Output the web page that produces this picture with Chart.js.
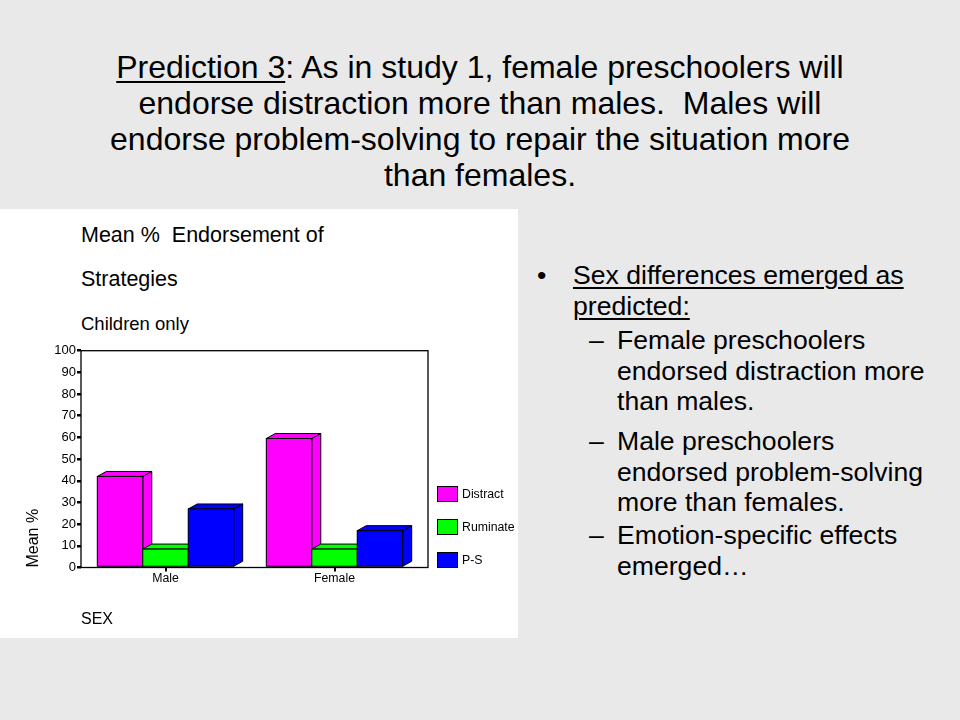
<!DOCTYPE html>
<html>
<head>
<meta charset="utf-8">
<script src="https://cdn.jsdelivr.net/npm/chart.js@4/dist/chart.umd.min.js"></script>
<style>
  body { margin: 0; width: 960px; height: 720px; background: #e9e9e9; overflow: hidden;
         font-family: "Liberation Sans", Arial, sans-serif; color: #000; position: relative; }
  .heading { position: absolute; left: 0; top: 49px; width: 960px; text-align: center;
             font-size: 32px; line-height: 36px; }
  .panel { position: absolute; left: 0; top: 209px; width: 518px; height: 429px; background: #fff; }
  .ctitle { position: absolute; left: 81px; line-height: 1; white-space: pre; }
  #chartWrap { position: absolute; left: 0; top: 330px; width: 518px; height: 300px; }
  .para { position: absolute; font-size: 26.6px; line-height: 30.5px; white-space: nowrap; }
  .mark { position: absolute; font-size: 26.6px; line-height: 30.5px; }
  u { text-underline-offset: 3px; text-decoration-thickness: 1.5px; }
</style>
</head>
<body>

<div class="heading"><u>Prediction 3</u>: As in study 1, female preschoolers will<br>endorse distraction more than males.&nbsp; Males will<br>endorse problem-solving to repair the situation more<br>than females.</div>

<div class="panel"></div>
<div class="ctitle" style="top:225px; font-size:21.5px;">Mean %  Endorsement of</div>
<div class="ctitle" style="top:269px; font-size:21.5px;">Strategies</div>
<div class="ctitle" style="top:315px; font-size:18.5px;">Children only</div>

<div id="chartWrap"><canvas id="chart"></canvas></div>

<!-- bullet text on the right -->
<div class="mark" style="left:537px; top:260px;">•</div>
<div class="para" style="left:573px; top:260px;"><u>Sex differences emerged as<br>predicted:</u></div>

<div class="mark" style="left:589px; top:325px;">–</div>
<div class="para" style="left:617px; top:325px;">Female preschoolers<br>endorsed distraction more<br>than males.</div>

<div class="mark" style="left:589px; top:426px;">–</div>
<div class="para" style="left:617px; top:426px;">Male preschoolers<br>endorsed problem-solving<br>more than females.</div>

<div class="mark" style="left:589px; top:520px;">–</div>
<div class="para" style="left:617px; top:520px;">Emotion-specific effects<br>emerged…</div>

<script>
// ==================== DATA ====================
const categories = ['Male', 'Female'];
const seriesNames = ['Distract', 'Ruminate', 'P-S'];
const distract = [42, 59.5];
const ruminate = [8.5, 8.5];
const problemSolving = [27, 17];
const yMin = 0, yMax = 100, yStep = 10;

const seriesColors = ['#ff00ff', '#00ff00', '#0000ff'];
const DX = 9, DY = 5; // 3D depth of the bars

// ==================== PLUGINS ====================
// box round the plot, like the old SPSS frame
const framePlugin = {
  id: 'frame',
  beforeDatasetsDraw(chart) {
    const { ctx, chartArea: a } = chart;
    ctx.save();
    ctx.strokeStyle = '#000';
    ctx.lineWidth = 1.3;
    ctx.strokeRect(a.left, a.top, a.right + DX - a.left, a.bottom - a.top);
    ctx.restore();
  }
};

// redraw every bar as a 3D block, left to right so overlaps come out right
const bar3dPlugin = {
  id: 'bar3d',
  afterDatasetsDraw(chart) {
    const ctx = chart.ctx;
    ctx.save();
    ctx.strokeStyle = '#000';
    ctx.lineWidth = 1;
    chart.data.labels.forEach((lab, i) => {
      chart.data.datasets.forEach((ds, j) => {
        const el = chart.getDatasetMeta(j).data[i];
        const { x, y, base, width } = el.getProps(['x', 'y', 'base', 'width'], true);
        const l = x - width / 2, r = x + width / 2;
        ctx.fillStyle = ds.backgroundColor;

        // side face
        ctx.beginPath();
        ctx.moveTo(r, y);
        ctx.lineTo(r + DX, y - DY);
        ctx.lineTo(r + DX, base - DY);
        ctx.lineTo(r, base);
        ctx.closePath();
        ctx.fill(); ctx.stroke();

        // top face
        ctx.beginPath();
        ctx.moveTo(l, y);
        ctx.lineTo(l + DX, y - DY);
        ctx.lineTo(r + DX, y - DY);
        ctx.lineTo(r, y);
        ctx.closePath();
        ctx.fill(); ctx.stroke();

        // front face
        ctx.fillRect(l, y, width, base - y);
        ctx.strokeRect(l, y, width, base - y);
      });
    });
    ctx.restore();
  }
};

// legend in the bottom right corner, boxes stacked upward from the axis
const legendPlugin = {
  id: 'sideLegend',
  afterDraw(chart) {
    const { ctx, chartArea: a } = chart;
    const n = chart.data.datasets.length;
    ctx.save();
    ctx.font = '12.3px "Liberation Sans", Arial, sans-serif';
    ctx.textBaseline = 'middle';
    ctx.textAlign = 'left';
    chart.data.datasets.forEach((ds, i) => {
      const bx = a.right + DX + 9.5;
      const by = a.bottom - 15 - (n - 1 - i) * 33;
      ctx.fillStyle = ds.backgroundColor;
      ctx.fillRect(bx, by, 20, 15);
      ctx.strokeStyle = '#000';
      ctx.lineWidth = 1;
      ctx.strokeRect(bx, by, 20, 15);
      ctx.fillStyle = '#000';
      ctx.fillText(ds.label, bx + 24.5, by + 8);
    });
    ctx.restore();
  }
};

// ==================== CHART ====================
const seriesValues = [distract, ruminate, problemSolving];

new Chart(document.getElementById('chart'), {
  type: 'bar',
  data: {
    labels: categories,
    datasets: seriesNames.map((name, i) => ({
      label: name,
      data: seriesValues[i],
      backgroundColor: seriesColors[i],
      borderWidth: 0,
      barPercentage: 1,
      categoryPercentage: 0.807
    }))
  },
  options: {
    responsive: true,
    maintainAspectRatio: false,
    animation: false,
    layout: { padding: { top: 20.7, right: 99, bottom: 1, left: 0 } },
    plugins: {
      legend: { display: false },
      tooltip: { enabled: false }
    },
    scales: {
      x: {
        grid: { display: true, drawOnChartArea: false, offset: false, tickLength: 4, lineWidth: 2, color: '#000' },
        border: { display: false },
        ticks: { color: '#000', padding: 0, font: { family: '"Liberation Sans", Arial', size: 12.3 } },
        title: { display: true, text: 'SEX', align: 'start', color: '#000', padding: 0,
                 font: { family: '"Liberation Sans", Arial', size: 16 } },
        afterFit(scale) { scale.height = 61.5; }
      },
      y: {
        min: yMin,
        max: yMax,
        grid: { display: true, drawOnChartArea: false, tickLength: 4, lineWidth: 2.5, color: '#000' },
        border: { display: false },
        ticks: { stepSize: yStep, color: '#000', padding: 1, font: { family: '"Liberation Sans", Arial', size: 13 } },
        title: { display: true, text: 'Mean %', align: 'start', color: '#000', padding: { top: 24, bottom: 0 },
                 font: { family: '"Liberation Sans", Arial', size: 16 } },
        afterFit(scale) { scale.width = 81; }
      }
    }
  },
  plugins: [framePlugin, bar3dPlugin, legendPlugin]
});
</script>
</body>
</html>
